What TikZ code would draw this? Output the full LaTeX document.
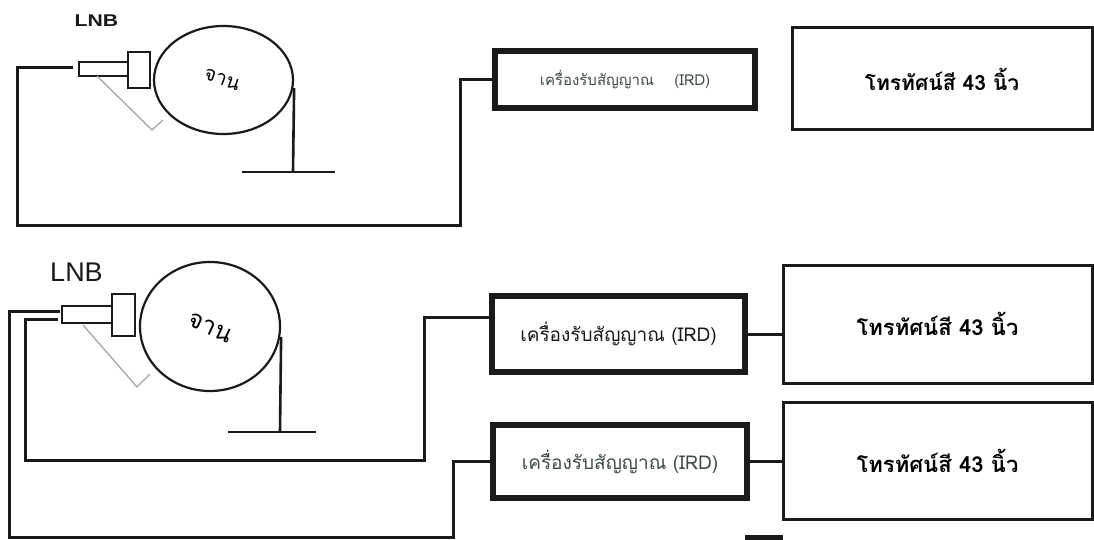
\documentclass[tikz,border=0pt]{standalone}
\usepackage{fontspec}
\setmainfont{Liberation Sans}
\newfontfamily\thaifont[Script=Thai]{Loma}
\usetikzlibrary{shapes.geometric,calc}
\definecolor{ink}{HTML}{1A1A1A}
\definecolor{greytext}{HTML}{3E4C44}
\tikzset{
  cable/.style={draw=ink,line width=3pt},
  irdbox/.style={draw=ink,line width=6pt,rectangle,inner sep=0pt},
  tvbox/.style={draw=ink,line width=3pt,rectangle,inner sep=0pt},
  horn/.style={draw=ink,line width=2pt,rectangle,inner sep=0pt},
  dish/.style={draw=ink,line width=2.2pt,ellipse,inner sep=0pt},
  support/.style={draw=gray!70,line width=1.3pt},
  stand/.style={draw=ink,line width=2.6pt},
  lnbtxt/.style={inner sep=0pt,text=ink},
}
\begin{document}
\begin{tikzpicture}[x=1pt,y=-1pt]
\useasboundingbox[fill=white] (0,0) rectangle (1094,540);

% ---------- top system ----------
\node[lnbtxt,font=\bfseries\fontsize{17}{17}\selectfont,xscale=1.25] (lnbA) at (96.5,21) {LNB};
\node[horn,minimum width=49pt,minimum height=14pt] (hornA) at (103.5,69) {};
\node[horn,minimum width=22pt,minimum height=36pt] (headA) at (139,70) {};
\node[dish,minimum width=139pt,minimum height=108pt] (dishA) at (223.5,80) {};
\node[rotate=-20,inner sep=0pt,font=\thaifont\fontsize{20}{20}\selectfont] (janA) at (222,80) {จาน};
\draw[support] (97,76) -- (152,130) -- (163,120);
\coordinate (standA) at (293,172);
\draw[stand] (dishA.east |- 0,88) -- (standA);
\draw[stand] (242,172) -- (335,172);

\node[irdbox,minimum width=260pt,minimum height=57pt,text=greytext,font=\thaifont\fontsize{15}{15}\selectfont] (irdA) at (625,79.5) {เครื่องรับสัญญาณ\ \ \ \ (IRD)};
\node[tvbox,minimum width=300pt,minimum height=102pt,font=\thaifont\bfseries\fontsize{21}{21}\selectfont] (tvA) at (942,79) {โทรทัศน์สี 43 นิ้ว};

\coordinate (a0) at (73,68);
\coordinate (a1) at (17,68);
\coordinate (a2) at (460,225);
\draw[cable] (a0) -- (a1) |- (a2) |- (irdA.west);

% ---------- bottom system ----------
\node[lnbtxt,font=\fontsize{27}{27}\selectfont] (lnbB) at (76.5,272) {LNB};
\node[horn,minimum width=50pt,minimum height=17pt] (hornB) at (87,314.5) {};
\node[horn,minimum width=23pt,minimum height=42pt] (headB) at (123.5,315) {};
\node[dish,minimum width=140pt,minimum height=129pt] (dishB) at (210,326.5) {};
\node[rotate=-25,inner sep=0pt,font=\thaifont\fontsize{25}{25}\selectfont] (janB) at (210,328) {จาน};
\draw[support] (83,325) -- (137,387) -- (150,374);
\coordinate (standB) at (280,432);
\draw[stand] (dishB.east |- 0,337) -- (standB);
\draw[stand] (228,432) -- (316,432);

\node[irdbox,minimum width=253pt,minimum height=76pt,text=ink,font=\thaifont\fontsize{19}{19}\selectfont] (irdB) at (618.5,334) {เครื่องรับสัญญาณ (IRD)};
\node[irdbox,minimum width=254pt,minimum height=73pt,text=greytext,font=\thaifont\fontsize{19}{19}\selectfont] (irdC) at (620,461.5) {เครื่องรับสัญญาณ (IRD)};
\node[tvbox,minimum width=309pt,minimum height=118pt,font=\thaifont\bfseries\fontsize{22}{22}\selectfont] (tvB) at (937.5,324) {โทรทัศน์สี 43 นิ้ว};
\node[tvbox,minimum width=309pt,minimum height=117pt,font=\thaifont\bfseries\fontsize{22}{22}\selectfont] (tvC) at (937.5,460.5) {โทรทัศน์สี 43 นิ้ว};

\draw[cable] (irdB.east) -- (irdB.east -| tvB.west);
\draw[cable] (irdC.east) -- (irdC.east -| tvC.west);

% inner cable to first receiver
\coordinate (b0) at (58,319);
\coordinate (b1) at (25,319);
\coordinate (b2) at (424,460);
\draw[cable] (b0) -- (b1) |- (b2) |- ($(irdB.north west)!0.3!(irdB.south west)$);
% outer cable to second receiver
\coordinate (c0) at (60,311);
\coordinate (c1) at (9,311);
\coordinate (c2) at (453,537);
\draw[cable] (c0) -- (c1) |- (c2) |- (irdC.west);

% cut-off part of a further box at the bottom edge
\coordinate (d0) at (745,537);
\coordinate (d1) at (783,537);
\draw[draw=ink,line width=5pt] (d0) -- (d1);
\end{tikzpicture}
\end{document}
